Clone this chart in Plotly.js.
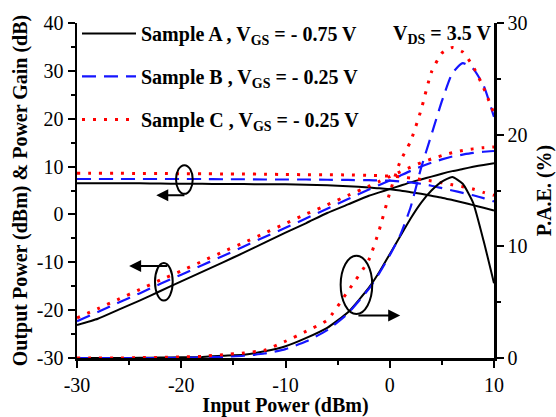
<!DOCTYPE html>
<html><head><meta charset="utf-8">
<script src="https://cdn.plot.ly/plotly-3.0.1.min.js"></script>
<style>html,body{margin:0;padding:0;background:#fff}#chart{width:556px;height:417px}</style>
</head><body><div id="chart"></div>
<script>
const inputPower = [-30,-28,-26,-24,-22,-20,-18,-16,-14,-12,-10,-8,-6,-4,-2,-1,0,1,2,3,4,5,6,7,8,9,10];

const poutA = [-23.1,-21.8,-19.9,-18.0,-16.0,-14.0,-12.0,-10.0,-8.0,-5.9,-3.8,-1.8,0.3,2.1,3.9,4.6,5.3,6.0,6.7,7.3,7.9,8.5,9.05,9.5,9.95,10.35,10.7];
const poutB = [-22.3,-20.4,-18.4,-16.5,-14.5,-12.6,-10.6,-8.7,-6.7,-4.7,-2.8,-0.8,1.2,3.2,5.2,6.15,7.1,8.1,9.1,10.0,10.8,11.5,12.1,12.5,12.85,13.1,13.25];
const poutC = [-21.6,-19.7,-17.7,-15.7,-13.7,-11.8,-9.8,-7.8,-5.9,-3.9,-1.9,0.1,2.0,4.0,5.9,6.9,7.9,8.9,9.9,10.8,11.6,12.3,12.9,13.35,13.7,13.95,14.1];

const gainA = [6.5,6.5,6.5,6.5,6.45,6.4,6.4,6.35,6.35,6.3,6.3,6.2,6.1,5.9,5.65,5.45,5.25,5.0,4.65,4.3,3.9,3.5,3.0,2.5,1.95,1.4,0.8];
const gainB = [7.4,7.4,7.4,7.4,7.4,7.4,7.4,7.35,7.35,7.3,7.3,7.3,7.25,7.2,7.15,7.1,7.05,6.9,6.7,6.4,6.0,5.5,5.0,4.5,4.0,3.4,2.7];
const gainC = [8.6,8.6,8.6,8.55,8.55,8.5,8.5,8.45,8.45,8.4,8.35,8.3,8.3,8.25,8.15,8.1,8.0,7.85,7.6,7.3,7.0,6.6,6.2,5.8,5.3,4.6,4.0];

const paeA = [0,0,0,0.02,0.04,0.06,0.1,0.2,0.3,0.6,1.05,1.8,2.7,4.1,6.3,7.7,9.3,10.9,12.5,13.9,15.0,15.8,16.2,15.6,13.9,10.5,6.7];
const paeB = [0,0,0,0,0,0.02,0.05,0.1,0.2,0.4,0.8,1.5,2.5,4.0,6.2,7.6,9.2,11.0,13.5,17.0,20.0,23.0,25.5,26.4,25.9,24.4,21.6];
const paeC = [0,0,0,0.03,0.06,0.1,0.15,0.3,0.45,0.7,1.5,2.4,3.4,6.0,8.8,11.5,14.8,17.6,19.4,22.2,25.6,27.3,27.8,27.4,26.1,24.2,21.9];

const xTickVals = [-30,-20,-10,0,10];
const xTickText = ['-30','-20','-10','0','10'];
const yTickVals = [-30,-20,-10,0,10,20,30,40];
const yTickText = ['-30','-20','-10','0','10','20','30','40'];
const y2TickVals = [0,10,20,30];
const y2TickText = ['0','10','20','30'];

const sampleNames = [
  '<b>Sample A , V<sub>GS</sub> = - 0.75 V</b>',
  '<b>Sample B , V<sub>GS</sub> = - 0.25 V</b>',
  '<b>Sample C , V<sub>GS</sub> = - 0.25 V</b>'
];
const biasLabel = '<b>V<sub>DS</sub> = 3.5 V</b>';
const xTitle = '<b>Input Power (dBm)</b>';
const yTitle = '<b>Output Power (dBm) &amp; Power Gain (dB)</b>';
const y2Title = '<b>P.A.E. (%)</b>';

const FONT = 'Liberation Serif';
const styles = [
  {color: '#000000', width: 2, dash: 'solid'},
  {color: '#1515ff', width: 2.2, dash: '14px,8px'},
  {color: '#ff0000', width: 3, dash: '3px,8px'}
];
const pout = [poutA, poutB, poutC];
const gain = [gainA, gainB, gainC];
const pae = [paeA, paeB, paeC];

const traces = [];
for (let i = 0; i < 3; i++) {
  const g = 'g' + i;
  traces.push({x: inputPower, y: pout[i], type: 'scatter', mode: 'lines', line: Object.assign({shape: 'spline', smoothing: 0.5}, styles[i]), name: sampleNames[i], legendgroup: g, showlegend: true, hoverinfo: 'skip'});
  traces.push({x: inputPower, y: gain[i], type: 'scatter', mode: 'lines', line: Object.assign({shape: 'spline', smoothing: 0.5}, styles[i]), name: sampleNames[i], legendgroup: g, showlegend: false, hoverinfo: 'skip'});
  traces.push({x: inputPower, y: pae[i], yaxis: 'y2', type: 'scatter', mode: 'lines', line: Object.assign({shape: 'spline', smoothing: 0.5}, styles[i]), name: sampleNames[i], legendgroup: g, showlegend: false, hoverinfo: 'skip'});
}

const tickFont = {family: FONT, size: 20, color: '#000'};
const titleFont = {family: FONT, size: 20, color: '#000'};

const layout = {
  width: 556, height: 417,
  margin: {l: 77, r: 62, t: 23, b: 59},
  paper_bgcolor: '#fff', plot_bgcolor: '#fff',
  font: {family: FONT, color: '#000'},
  showlegend: true,
  legend: {x: 0, y: 1.027, xanchor: 'left', yanchor: 'top', bgcolor: 'rgba(0,0,0,0)', font: {family: FONT, size: 20, color: '#000'}, tracegroupgap: 14, itemwidth: 54, traceorder: 'grouped'},
  xaxis: {range: [-30, 10], tickmode: 'array', tickvals: xTickVals, ticktext: xTickText, ticks: 'outside', ticklen: 7, tickwidth: 2, tickcolor: '#000',
    minor: {dtick: 5, tick0: -30, ticks: 'outside', ticklen: 4, tickwidth: 2, tickcolor: '#000', showgrid: false},
    showline: true, linewidth: 2.5, linecolor: '#000', showgrid: false, zeroline: false,
    tickfont: tickFont, title: {text: xTitle, font: titleFont, standoff: 6}},
  xaxis2: {overlaying: 'x', anchor: 'y', side: 'top', range: [-30, 10], dtick: 5, tick0: -30, ticks: 'inside', ticklen: 4, tickwidth: 1.5, tickcolor: '#000',
    showticklabels: false, showline: true, linewidth: 2, linecolor: '#000', showgrid: false, zeroline: false},
  yaxis: {range: [-30, 40], tickmode: 'array', tickvals: yTickVals, ticktext: yTickText, ticks: 'outside', ticklen: 7, tickwidth: 2, tickcolor: '#000',
    minor: {dtick: 5, tick0: -30, ticks: 'outside', ticklen: 4, tickwidth: 2, tickcolor: '#000', showgrid: false},
    showline: true, linewidth: 2.5, linecolor: '#000', showgrid: false, zeroline: false,
    tickfont: tickFont, title: {text: yTitle, font: titleFont, standoff: 4}},
  yaxis2: {overlaying: 'y', side: 'right', anchor: 'x', range: [0, 30], tickmode: 'array', tickvals: y2TickVals, ticktext: y2TickText, ticks: 'outside', ticklen: 7, tickwidth: 2, tickcolor: '#000',
    minor: {dtick: 5, tick0: 0, ticks: 'outside', ticklen: 4, tickwidth: 2, tickcolor: '#000', showgrid: false},
    showline: true, linewidth: 2.5, linecolor: '#000', showgrid: false, zeroline: false,
    tickfont: tickFont, title: {text: y2Title, font: titleFont, standoff: 13}},
  shapes: [
    {type: 'circle', xref: 'x', yref: 'y', x0: -20.5, x1: -18.9, y0: 4.3, y1: 10.3, line: {color: '#000', width: 2}},
    {type: 'circle', xref: 'x', yref: 'y', x0: -22.52, x1: -20.82, y0: -18.0, y1: -10.15, line: {color: '#000', width: 2}},
    {type: 'circle', xref: 'x', yref: 'y2', x0: -4.71, x1: -1.68, y0: 3.94, y1: 9.16, line: {color: '#000', width: 2}}
  ],
  annotations: [
    {xref: 'paper', yref: 'paper', x: 0.997, y: 0.965, xanchor: 'right', yanchor: 'middle', text: biasLabel, showarrow: false, font: {family: FONT, size: 20, color: '#000'}},
    {xref: 'x', yref: 'y', axref: 'x', ayref: 'y', x: -22.4, y: 4.0, ax: -19.55, ay: 4.0, text: '', showarrow: true, arrowhead: 2, arrowsize: 1.2, arrowwidth: 2, arrowcolor: '#000'},
    {xref: 'x', yref: 'y', axref: 'x', ayref: 'y', x: -25.0, y: -10.8, ax: -21.2, ay: -10.8, text: '', showarrow: true, arrowhead: 2, arrowsize: 1.2, arrowwidth: 2, arrowcolor: '#000'},
    {xref: 'x', yref: 'y2', axref: 'x', ayref: 'y2', x: 1.0, y: 3.8, ax: -3.15, ay: 3.8, text: '', showarrow: true, arrowhead: 2, arrowsize: 1.2, arrowwidth: 2, arrowcolor: '#000'}
  ]
};

Plotly.newPlot('chart', traces, layout, {displayModeBar: false, staticPlot: true});
</script></body></html>
